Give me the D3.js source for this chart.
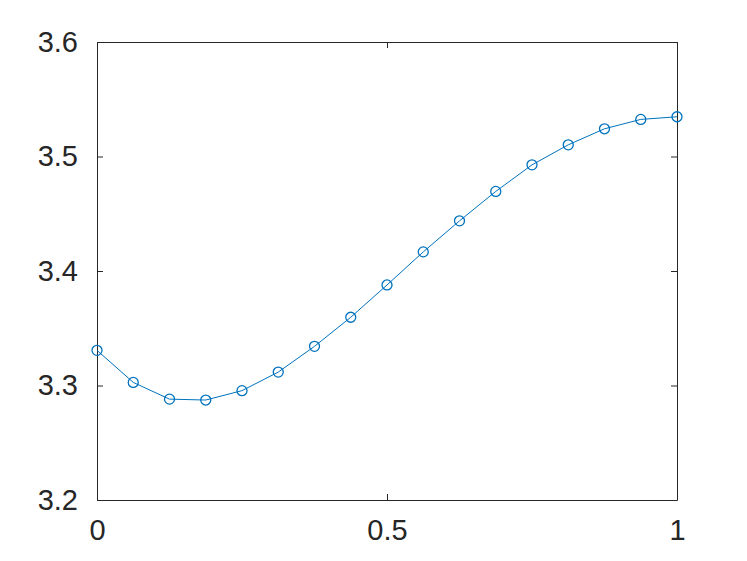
<!DOCTYPE html>
<html>
<head>
<meta charset="utf-8">
<script src="https://cdn.jsdelivr.net/npm/d3@7"></script>
<style>
  body { margin: 0; background: #fff; }
</style>
</head>
<body>
<svg id="plot"></svg>
<script>
// sample positions and values
var xValues = [0, 0.0625, 0.125, 0.1875, 0.25, 0.3125, 0.375, 0.4375, 0.5,
               0.5625, 0.625, 0.6875, 0.75, 0.8125, 0.875, 0.9375, 1];
var yValues = [3.3307, 3.3027, 3.2881, 3.2873, 3.2955, 3.3117, 3.3342, 3.3596, 3.3878,
               3.4167, 3.4438, 3.4695, 3.4927, 3.5102, 3.5242, 3.5324, 3.5347];
var xTicks = [0, 0.5, 1];
var yTicks = [3.2, 3.3, 3.4, 3.5, 3.6];

var width = 747, height = 561;
var plotLeft = 97, plotRight = 677, plotTop = 42, plotBottom = 500;
var axisColor = "#262626", lineColor = "#0072BD";

var svg = d3.select("#plot")
    .attr("width", width)
    .attr("height", height);

var xScale = d3.scaleLinear().domain([0, 1]).range([plotLeft, plotRight]);
var yScale = d3.scaleLinear().domain([3.2, 3.6]).range([plotBottom, plotTop]);

// box with inward ticks on all four sides
var axes = [
  {axis: d3.axisBottom(xScale).tickValues(xTicks), y: plotBottom, x: 0, labels: true},
  {axis: d3.axisTop(xScale).tickValues(xTicks), y: plotTop, x: 0, labels: false},
  {axis: d3.axisLeft(yScale).tickValues(yTicks), y: 0, x: plotLeft, labels: true},
  {axis: d3.axisRight(yScale).tickValues(yTicks), y: 0, x: plotRight, labels: false}
];

axes.forEach(function(a) {
  var g = svg.append("g")
      .attr("transform", "translate(" + a.x + "," + a.y + ")")
      .call(a.axis.tickSizeInner(-6).tickSizeOuter(0).tickPadding(a.labels ? 19 : 0)
              .tickFormat(a.labels ? d3.format("") : ""))
      .attr("font-family", "'Liberation Sans', Arial, sans-serif")
      .attr("font-size", 29);
  g.select(".domain").attr("stroke", axisColor);
  g.selectAll(".tick line").attr("stroke", axisColor);
  g.selectAll(".tick text").attr("fill", axisColor);
});

var linegen = d3.line()
    .x(function(d, i) { return xScale(xValues[i]); })
    .y(function(d) { return yScale(d); });

svg.append("path")
    .datum(yValues)
    .attr("d", linegen)
    .attr("fill", "none")
    .attr("stroke", lineColor)
    .attr("stroke-width", 1);

svg.selectAll("circle.pt")
    .data(yValues)
    .enter()
    .append("circle")
    .attr("class", "pt")
    .attr("cx", function(d, i) { return xScale(xValues[i]); })
    .attr("cy", function(d) { return yScale(d); })
    .attr("r", 5)
    .attr("fill", "none")
    .attr("stroke", lineColor)
    .attr("stroke-width", 1.3);
</script>
</body>
</html>
